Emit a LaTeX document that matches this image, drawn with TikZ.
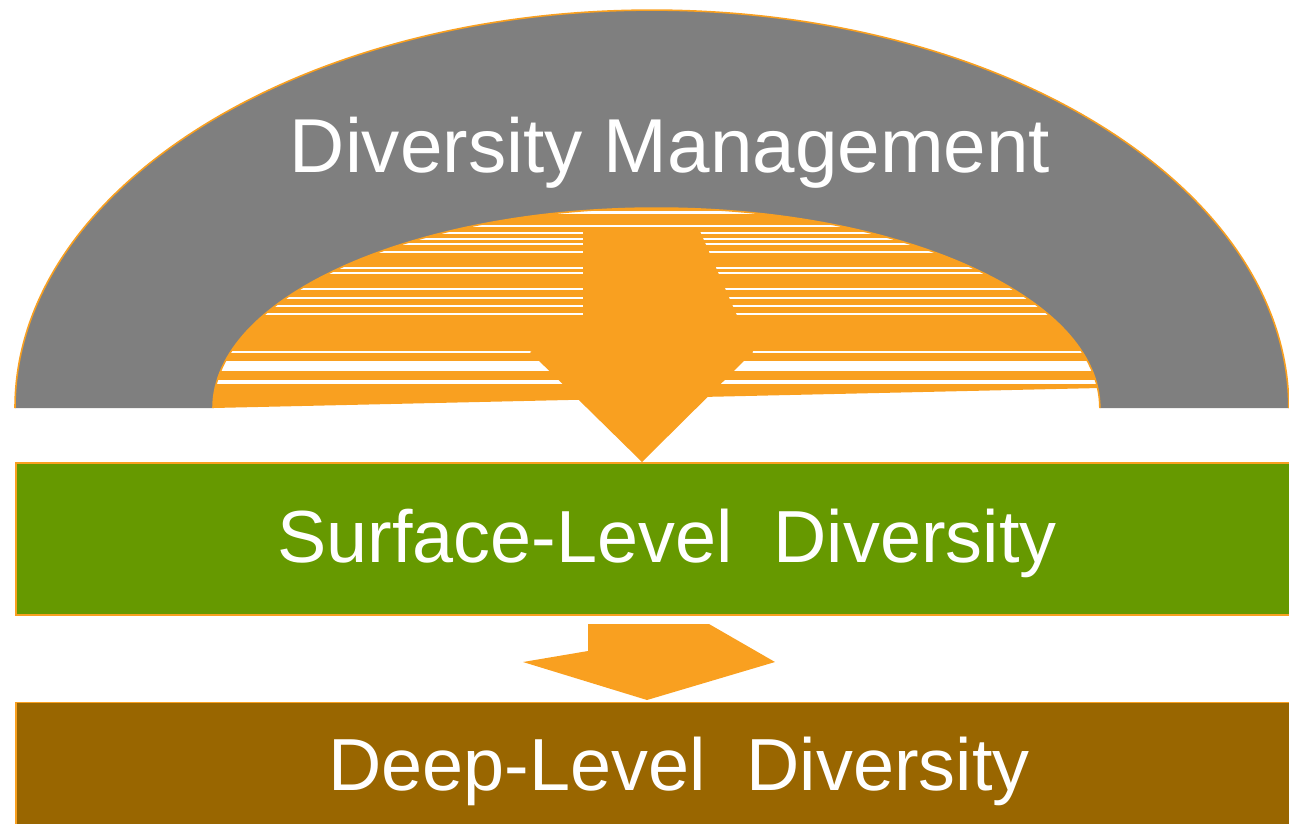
\documentclass[tikz,border=0pt]{standalone}
\usepackage{fontspec}
\setmainfont{Liberation Sans}
\definecolor{archgray}{RGB}{127,127,127}
\definecolor{medorange}{RGB}{249,160,32}
\definecolor{leafgreen}{RGB}{102,153,0}
\definecolor{earthbrown}{RGB}{153,102,0}
\usetikzlibrary{positioning}
\tikzset{
	band/.style={rectangle, draw=medorange, line width=0.9pt, minimum width=26.6cm, minimum height=3.04cm, inner sep=0pt},
	bandtext/.style={text=white, anchor=base, inner sep=0pt, font=\fontsize{42}{48}\selectfont},
	titletext/.style={text=white, anchor=base, inner sep=0pt, font=\fontsize{43.5}{50}\selectfont},
	blockarrow/.style={fill=medorange},
	rim/.style={draw=medorange, line width=0.9pt},
	stripe/.style={draw=white},
}

\begin{document}
\begin{tikzpicture}[x=0.02cm, y=-0.02cm]
		\useasboundingbox (0,0) rectangle (1289,823);
		\clip (0,0) rectangle (1289,823);
		% arch
		\fill[archgray] (15,408) arc[start angle=180, end angle=0, x radius=12.74cm, y radius=7.96cm]
			-- (1100,408) arc[start angle=0, end angle=180, x radius=8.87cm, y radius=4cm] -- cycle;
		\draw[rim] (15,408) arc[start angle=180, end angle=0, x radius=12.74cm, y radius=7.96cm];
		\begin{scope}
			\clip (213,408) arc[start angle=180, end angle=0, x radius=8.87cm, y radius=4cm] -- cycle;
			\fill[medorange] (213,408) -- (1100,388) -- (1100,190) -- (213,190) -- cycle;
			\foreach \y/\w in {212/1.7pt, 226/1.1pt, 233/1.1pt, 239/1.1pt, 244/1.1pt, 252/1.1pt, 268/1.1pt, 273/1.1pt, 289/1.1pt, 298/1.1pt, 306/1.1pt, 314/1.1pt, 352/1.1pt, 366/6.2pt, 382/2.3pt}
				\draw[stripe, line width=\w] (200,\y) -- (1110,\y);
		\end{scope}
		\draw[rim] (213,408) arc[start angle=180, end angle=0, x radius=8.87cm, y radius=4cm];
		\node[titletext] (mgmt) at (670,172) {Diversity Management};

		% bands
		\node[band, fill=leafgreen, anchor=north west] (surface) at (15,462) {};
		\node[band, fill=earthbrown, below=1.72cm of surface.south west, anchor=north west] (deep) {};
		\node[bandtext] (surfacetext) at (667,562) {Surface-Level\ \ Diversity};
		\node[bandtext] (deeptext) at (679,790) {Deep-Level\ \ Diversity};

		% arrows
		\coordinate (tipA) at (642,462);
		\coordinate (tipB) at (647,700);
		\fill[blockarrow] (tipA) -- ++(111,-110) -- ++(-54,-123) -- ++(-116,0) -- ++(0,93) -- ++(-53,30) -- cycle;
		\fill[blockarrow] (tipB) -- ++(128,-38) -- ++(-66,-38) -- ++(-121,0) -- ++(0,27) -- ++(-65,11) -- cycle;
	\end{tikzpicture}
\end{document}
